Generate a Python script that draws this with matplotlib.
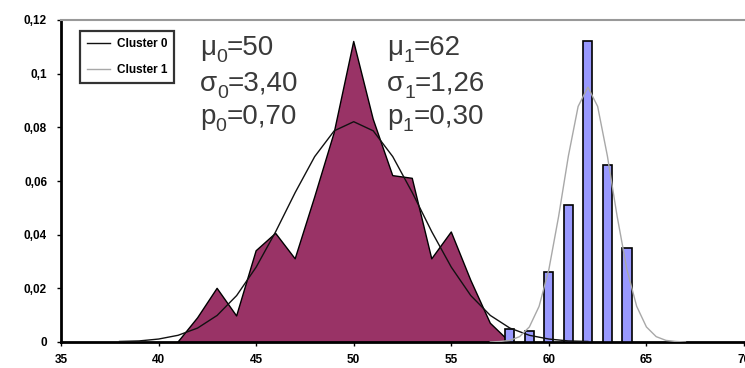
import matplotlib
matplotlib.use("Agg")
import matplotlib.pyplot as plt
from matplotlib.ticker import FixedLocator, FixedFormatter

plt.rcParams['font.family'] = ['Liberation Sans', 'DejaVu Sans']

# Cluster 0 empirical distribution (area)
c0_x = [41, 42, 43, 44, 45, 46, 47, 48, 49, 50, 51, 52, 53, 54, 55, 56, 57, 58]
c0_y = [0.0, 0.009, 0.020, 0.0097, 0.034, 0.0405, 0.031, 0.054, 0.078, 0.112,
        0.083, 0.062, 0.061, 0.031, 0.041, 0.023, 0.007, 0.0]

# Cluster 1 empirical distribution (bars)
c1_x = [58, 59, 60, 61, 62, 63, 64]
c1_y = [0.005, 0.004, 0.026, 0.051, 0.112, 0.066, 0.035]

# Fitted curve, cluster 0
fit0_x = [38, 39, 40, 41, 42, 43, 44, 45, 46, 47, 48, 49, 50, 51, 52, 53, 54,
          55, 56, 57, 58, 59, 60, 61, 62]
fit0_y = [0.0002, 0.0004, 0.0011, 0.0025, 0.0052, 0.0099, 0.0173, 0.0279,
          0.0411, 0.0557, 0.0691, 0.0787, 0.0821, 0.0787, 0.0691, 0.0557,
          0.0411, 0.0279, 0.0173, 0.0099, 0.0052, 0.0025, 0.0011, 0.0004, 0.0002]

# Fitted curve, cluster 1
fit1_x = [57, 57.5, 58, 58.5, 59, 59.5, 60, 60.5, 61, 61.5, 62, 62.5, 63, 63.5,
          64, 64.5, 65, 65.5, 66, 66.5, 67]
fit1_y = [0.0000, 0.0002, 0.0006, 0.0020, 0.0056, 0.0133, 0.0270, 0.0468,
          0.0693, 0.0878, 0.0950, 0.0878, 0.0693, 0.0468, 0.0270, 0.0133,
          0.0056, 0.0020, 0.0006, 0.0002, 0.0000]

legend_labels = ["Cluster 0", "Cluster 1"]
ytick_vals = [0, 0.02, 0.04, 0.06, 0.08, 0.1, 0.12]
ytick_labels = ["0", "0,02", "0,04", "0,06", "0,08", "0,1", "0,12"]
xtick_vals = [35, 40, 45, 50, 55, 60, 65, 70]
xtick_labels = ["35", "40", "45", "50", "55", "60", "65", "70"]

# Parameter annotations: (symbol, subscript, value)
params_left = [("μ", "0", "=50"), ("σ", "0", "=3,40"), ("p", "0", "=0,70")]
params_right = [("μ", "1", "=62"), ("σ", "1", "=1,26"), ("p", "1", "=0,30")]

W, H = 745, 368
fig = plt.figure(figsize=(W / 100, H / 100), dpi=100)
ax = fig.add_axes([61 / W, 26 / H, 683 / W, 322 / H])

ax.fill_between(c0_x, c0_y, 0, facecolor='#993366', edgecolor='none', zorder=2)
ax.plot(c0_x, c0_y, color='black', lw=1.0, zorder=3)
ax.bar(c1_x, c1_y, width=0.47, color='#9999FF', edgecolor='black', lw=1.2, zorder=3)

l0, = ax.plot(fit0_x, fit0_y, color='#111111', lw=1.0, zorder=4)
l1, = ax.plot(fit1_x, fit1_y, color='#a8a8a8', lw=1.0, zorder=4)

ax.set_xlim(35, 70)
ax.set_ylim(0, 0.12)
ax.xaxis.set_major_locator(FixedLocator(xtick_vals))
ax.xaxis.set_major_formatter(FixedFormatter(xtick_labels))
ax.yaxis.set_major_locator(FixedLocator(ytick_vals))
ax.yaxis.set_major_formatter(FixedFormatter(ytick_labels))
ax.tick_params(axis='both', labelsize=8.5, length=3, width=1, direction='out')
ax.tick_params(axis='x', pad=5.5)
ax.tick_params(axis='y', pad=7)
for lab in ax.get_xticklabels() + ax.get_yticklabels():
    lab.set_fontweight('bold')

ax.spines['right'].set_visible(False)
ax.spines['top'].set_color('#999999')
ax.spines['top'].set_linewidth(1.5)
ax.spines['left'].set_linewidth(2)
ax.spines['bottom'].set_linewidth(2)

leg = ax.legend([l0, l1], legend_labels, loc='upper left',
                bbox_to_anchor=(0.028, 0.966), fontsize=8.5, frameon=True,
                fancybox=False, edgecolor='black', handlelength=1.9,
                borderpad=0.6, labelspacing=1.2, handletextpad=0.6,
                borderaxespad=0.0)
leg.get_frame().set_linewidth(1.6)
for t in leg.get_texts():
    t.set_fontweight('bold')

txt_color = '#3a3a3a'
renderer = fig.canvas.get_renderer()
baselines = [55, 91, 124]


def draw_param(x_px, base_px, sym, sub, val):
    t1 = fig.text(x_px / W, 1 - base_px / H, sym, fontsize=20, color=txt_color,
                  va='baseline', ha='left')
    bb = t1.get_window_extent(renderer)
    t2 = fig.text(bb.x1 / W, (H - base_px - 7) / H, sub, fontsize=14,
                  color=txt_color, va='baseline', ha='left')
    bb2 = t2.get_window_extent(renderer)
    fig.text(bb2.x1 / W, 1 - base_px / H, val, fontsize=20, color=txt_color,
             va='baseline', ha='left')


for (sym, sub, val), b in zip(params_left, baselines):
    draw_param(200, b, sym, sub, val)
for (sym, sub, val), b in zip(params_right, baselines):
    draw_param(387, b, sym, sub, val)

fig.savefig("out.png", dpi=100)
